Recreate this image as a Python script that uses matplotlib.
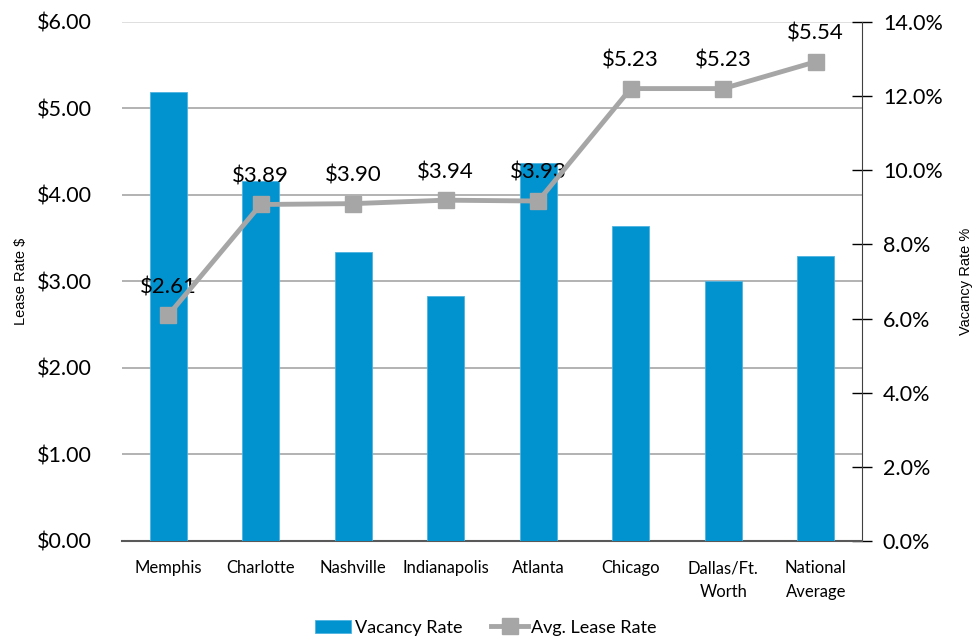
import matplotlib.pyplot as plt
from matplotlib.transforms import blended_transform_factory
from matplotlib.ticker import FuncFormatter

# data
cities = ['Memphis', 'Charlotte', 'Nashville', 'Indianapolis', 'Atlanta',
          'Chicago', 'Dallas/Ft.\nWorth', 'National\nAverage']
vacancy = [12.1, 9.7, 7.8, 6.6, 10.2, 8.5, 7.0, 7.7]
lease = [2.61, 3.89, 3.90, 3.94, 3.93, 5.23, 5.23, 5.54]
lease_ticks = [0, 1, 2, 3, 4, 5, 6]
vac_ticks = [0, 2, 4, 6, 8, 10, 12, 14]

plt.rcParams['font.family'] = ['Lato', 'DejaVu Sans']

fig = plt.figure(figsize=(9.72, 6.39), dpi=100)
ax_bar = fig.add_axes([0.1255, 0.1534, 0.7613, 0.8122])
ax_line = ax_bar.twinx()

x = list(range(len(cities)))

# bars live on the right (vacancy) scale
ax_bar.bar(x, vacancy, width=0.4, color='#0093d0', edgecolor='#4db3e0',
           linewidth=0.6, zorder=3, label='Vacancy Rate')
ax_bar.set_ylim(0, 14)
ax_bar.set_xlim(-0.5, 7.5)
ax_bar.yaxis.tick_right()
ax_bar.yaxis.set_label_position('right')
ax_bar.set_yticks(vac_ticks)
ax_bar.yaxis.set_major_formatter(FuncFormatter(lambda v, p: f'{v:.1f}%'))
ax_bar.tick_params(axis='y', direction='inout', length=14, width=1,
                   labelsize=15.5, pad=8, colors='black')
ax_bar.set_ylabel('Vacancy Rate %', fontsize=10.5, family='Liberation Sans',
                  labelpad=12)
ax_bar.set_xticks(x)
ax_bar.set_xticklabels(cities, fontsize=12, linespacing=1.6)
ax_bar.tick_params(axis='x', length=0, pad=14)

# gridlines for the lease scale, drawn behind the bars
trans = blended_transform_factory(ax_bar.transAxes, ax_line.transData)
for t in lease_ticks[1:]:
    c = '#d9d9d9' if t == 6 else '#a6a6a6'
    ax_bar.plot([0, 1], [t, t], transform=trans, color=c, lw=1.2, zorder=1)

# line lives on the left (lease) scale
ax_line.plot(x, lease, color='#a6a6a6', lw=3.5, marker='s', markersize=12,
             markerfacecolor='#a6a6a6', markeredgecolor='#a6a6a6',
             zorder=4, label='Avg. Lease Rate')
for xi, v in zip(x, lease):
    ax_line.annotate(f'${v:.2f}', (xi, v), xytext=(0, 13),
                     textcoords='offset points', ha='center', va='bottom',
                     fontsize=16)
ax_line.set_ylim(0, 6)
ax_line.yaxis.tick_left()
ax_line.yaxis.set_label_position('left')
ax_line.set_yticks(lease_ticks)
ax_line.yaxis.set_major_formatter(FuncFormatter(lambda v, p: f'${v:.2f}'))
ax_line.tick_params(axis='y', length=0, labelsize=15.5, pad=22)
ax_line.set_ylabel('Lease Rate $', fontsize=10.5, family='Liberation Sans',
                    labelpad=6)

for a in (ax_bar, ax_line):
    for s in ('top', 'left', 'right', 'bottom'):
        a.spines[s].set_visible(False)
ax_bar.spines['right'].set_visible(True)
ax_bar.spines['right'].set_color('#404040')
ax_bar.spines['bottom'].set_visible(True)
ax_bar.spines['bottom'].set_color('#595959')
ax_bar.spines['bottom'].set_linewidth(1.5)

h1, l1 = ax_bar.get_legend_handles_labels()
h2, l2 = ax_line.get_legend_handles_labels()
fig.legend(h1 + h2, l1 + l2, loc='lower center', bbox_to_anchor=(0.5, -0.02),
           ncol=2, frameon=False, fontsize=13, handlelength=2.0,
           handletextpad=0.2, columnspacing=1.6)

fig.savefig('out.png', dpi=100)
